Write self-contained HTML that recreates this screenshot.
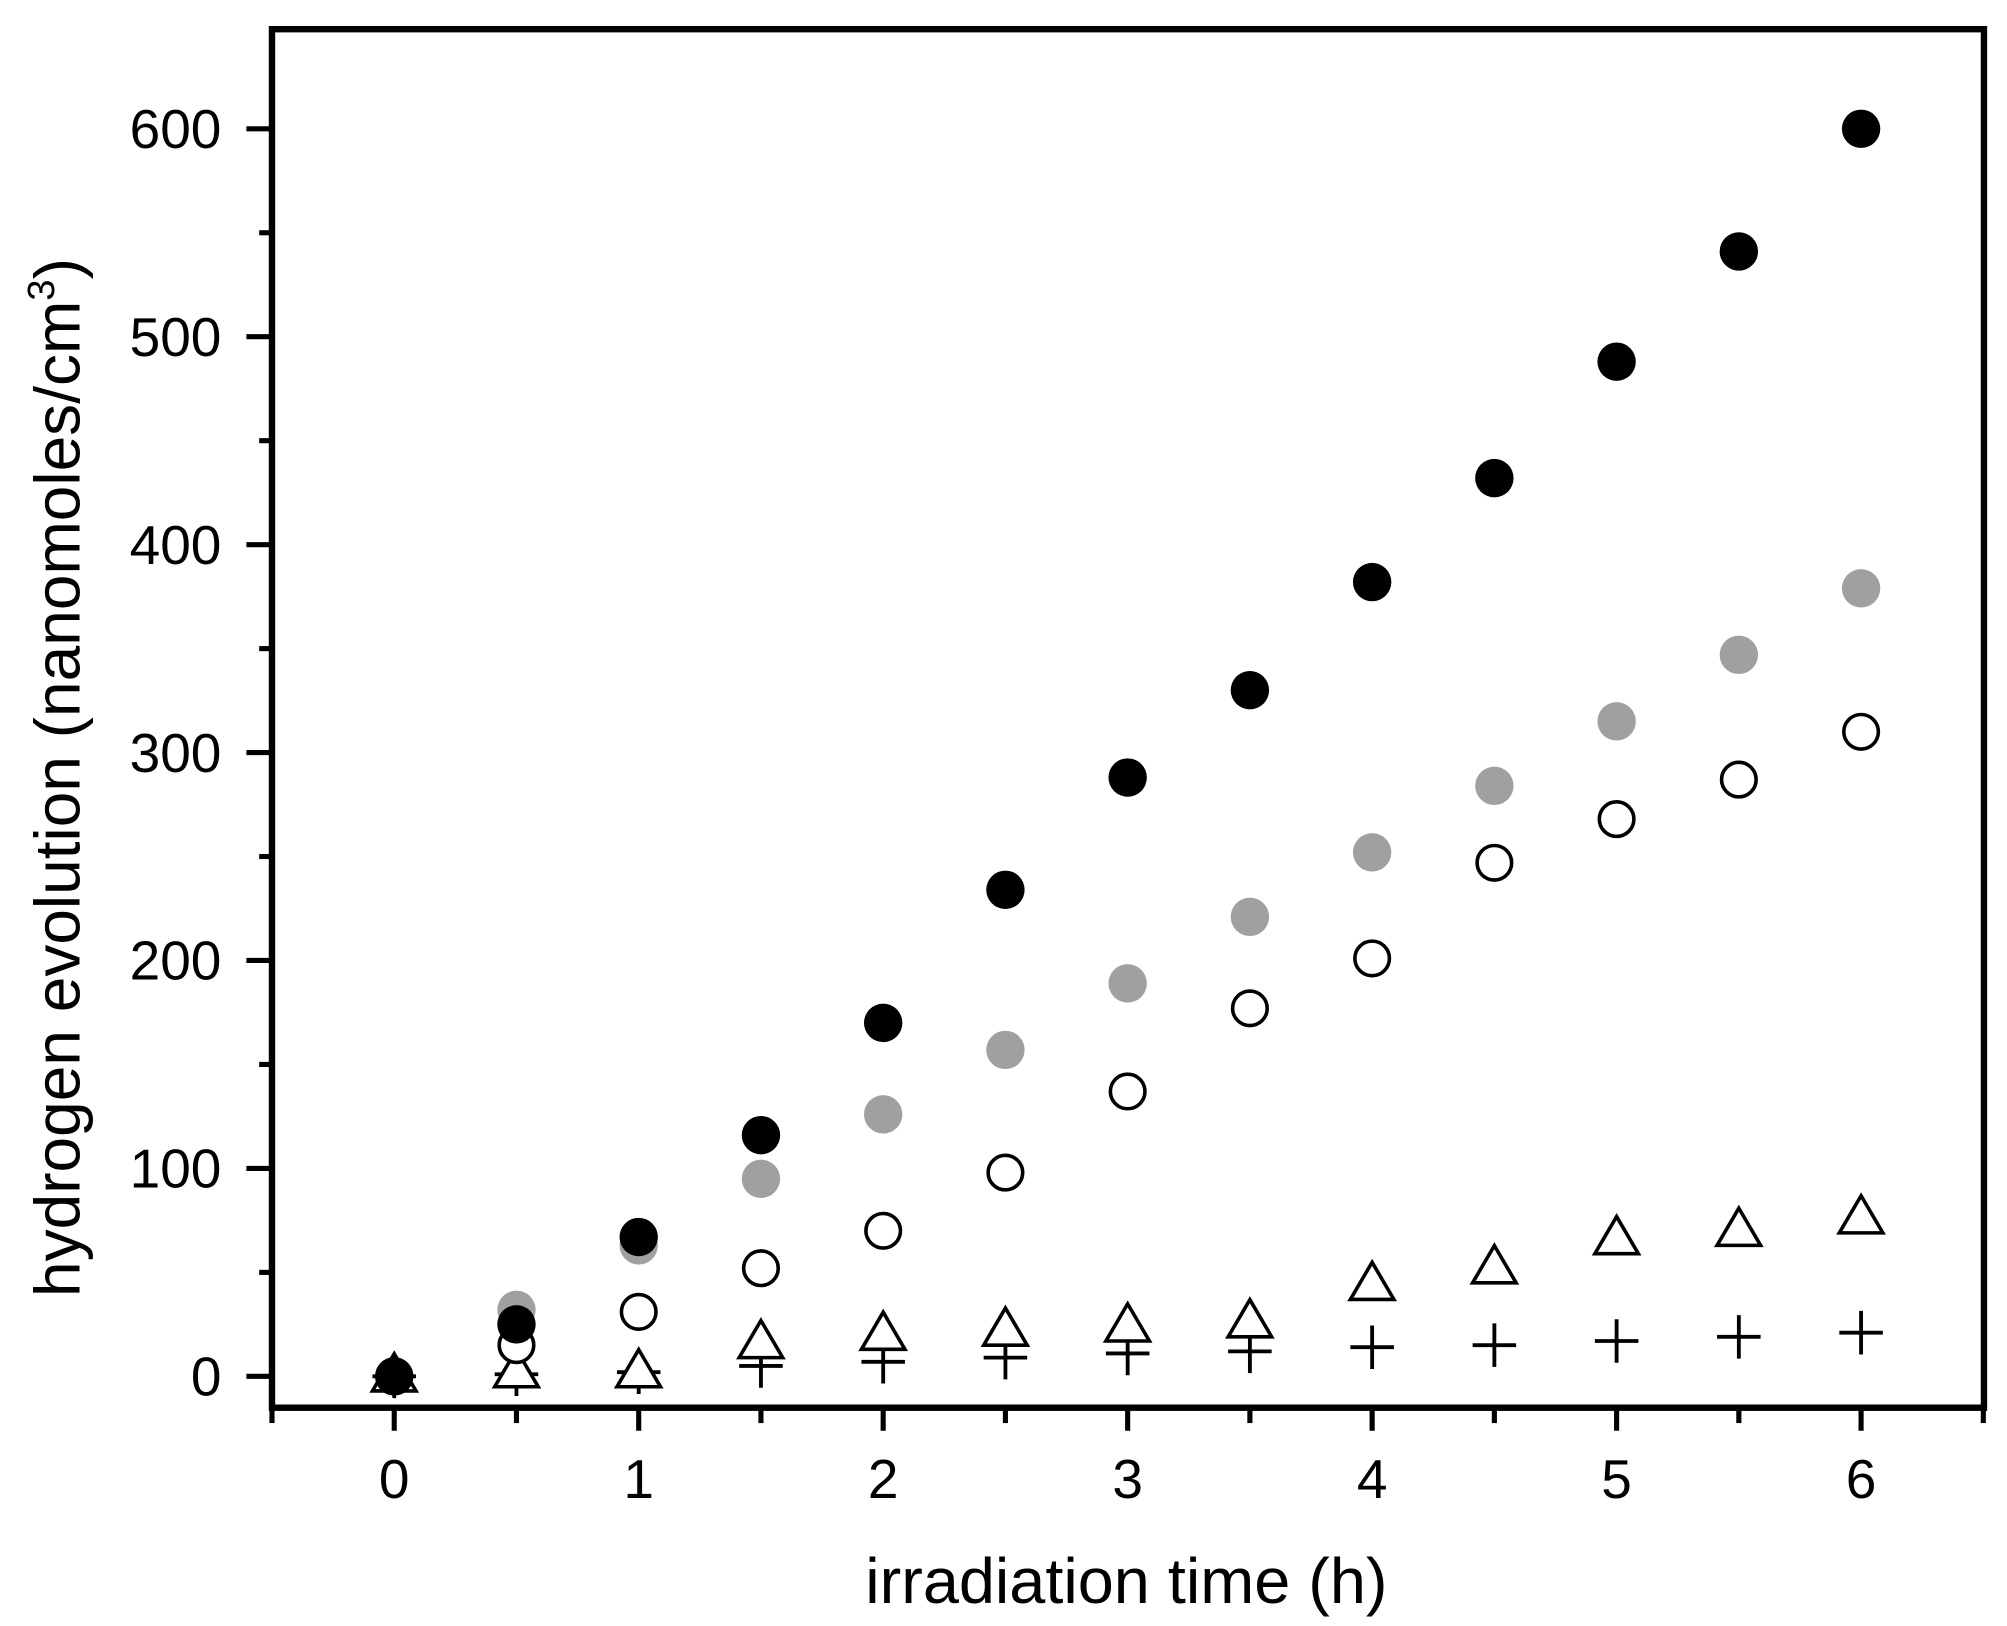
<!DOCTYPE html>
<html><head><meta charset="utf-8"><style>html,body{margin:0;padding:0;background:#fff}svg{display:block}</style></head>
<body>
<svg xmlns="http://www.w3.org/2000/svg" width="2007" height="1626" viewBox="0 0 1568 1270" preserveAspectRatio="none">
<rect x="0" y="0" width="1568" height="1270" fill="#fff"/>
<g id="plot"></g>
<script>
(function(){
const g=document.getElementById('plot');const NS='http://www.w3.org/2000/svg';
function el(t,a,txt){const e=document.createElementNS(NS,t);for(const k in a)e.setAttribute(k,a[k]);if(txt!==undefined)e.textContent=txt;g.appendChild(e);return e;}
const X=v=>308+v*191, Y=v=>1075-v*1.624;
const L=212.5,R=1550,T=22.8,B=1099.5;
for(let v=0;v<=600;v+=50){const maj=v%100==0;const y=Y(v);el('line',{x1:L-(maj?20:10),x2:L,y1:y,y2:y,stroke:'#000','stroke-width':4});
 if(maj)el('text',{x:173,y:y+15,'text-anchor':'end','font-family':'Liberation Sans, Arial, sans-serif','font-size':43},String(v));}
for(let i=-1;i<=13;i++){const v=i/2;const maj=i%2==0&&i>=0;const x=X(v);el('line',{x1:x,x2:x,y1:B,y2:B+(maj?18:12),stroke:'#000','stroke-width':4});
 if(maj)el('text',{x:x,y:1170,'text-anchor':'middle','font-family':'Liberation Sans, Arial, sans-serif','font-size':43},String(v));}
el('rect',{x:L,y:T,width:R-L,height:B-T,fill:'none',stroke:'#000','stroke-width':5});
const ts=[0,.5,1,1.5,2,2.5,3,3.5,4,4.5,5,5.5,6];
const plus=[0,1,2,5,7,9,11,12,14,15,17,19,21];
const tri=[1,3,3,17,21,23,25,27,45,53,67,71,77];
const open=[0,15,31,52,70,98,137,177,201,247,268,287,310];
const gray=[0,32,63,95,126,157,189,221,252,284,315,347,379];
const black=[0,25,67,116,170,234,288,330,382,432,488,541,600];
ts.forEach((t,i)=>{const x=X(t),y=Y(plus[i]);el('path',{d:`M${x-17} ${y}H${x+17}M${x} ${y-17}V${y+17}`,stroke:'#000','stroke-width':3,fill:'none'});});
ts.forEach((t,i)=>{const x=X(t),y=Y(tri[i]);el('path',{d:`M${x} ${y-16}L${x+17} ${y+13}H${x-17}Z`,stroke:'#000','stroke-width':2.8,fill:'#fff'});});
ts.forEach((t,i)=>{el('circle',{cx:X(t),cy:Y(open[i]),r:13.5,stroke:'#000','stroke-width':2.8,fill:'#fff'});});
ts.forEach((t,i)=>{if(i>0)el('circle',{cx:X(t),cy:Y(gray[i]),r:15,fill:'#a0a0a0'});});
ts.forEach((t,i)=>{el('circle',{cx:X(t),cy:Y(black[i]),r:15,fill:'#000'});});
el('text',{x:880,y:1252,'text-anchor':'middle','font-family':'Liberation Sans, Arial, sans-serif','font-size':50,textLength:408,lengthAdjust:'spacingAndGlyphs'},'irradiation time (h)');
const yt=el('text',{x:0,y:0,transform:'translate(62,1013) rotate(-90)','font-family':'Liberation Sans, Arial, sans-serif','font-size':50});
yt.appendChild(document.createTextNode('hydrogen evolution (nanomoles/cm'));
const sp=document.createElementNS(NS,'tspan');sp.setAttribute('dy','-20');sp.setAttribute('font-size','30');sp.textContent='3';yt.appendChild(sp);
const sp2=document.createElementNS(NS,'tspan');sp2.setAttribute('dy','20');sp2.textContent=')';yt.appendChild(sp2);
})();
</script>
</svg>
</body></html>
